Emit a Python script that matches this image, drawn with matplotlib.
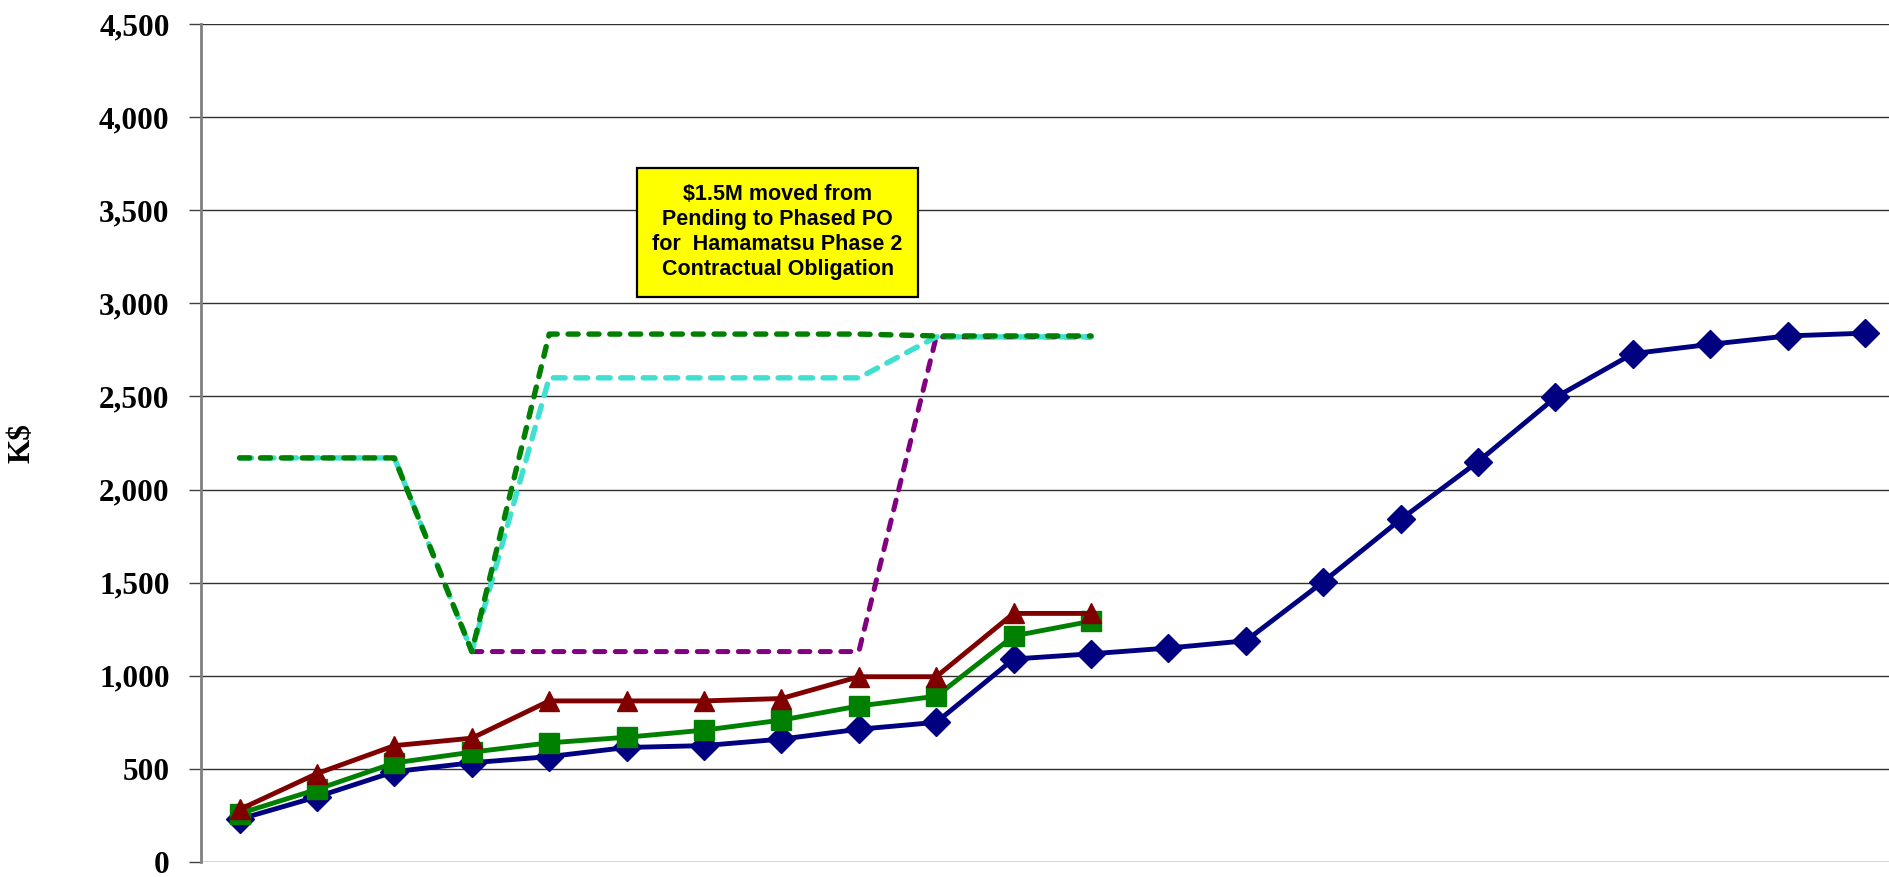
import matplotlib.pyplot as plt
import numpy as np

# Data for the chart (K$), 22 periods, no x tick labels shown
periods = np.arange(22)
actual = [230, 350, 485, 533, 566, 615, 625, 660, 713, 750, 1090, 1118,
          1149, 1188, 1505, 1840, 2150, 2495, 2730, 2780, 2825, 2840]
committed = [260, 390, 532, 590, 640, 670, 708, 762, 838, 890, 1214, 1293]
obligated = [282, 475, 625, 665, 865, 865, 865, 878, 995, 995, 1335, 1335]
plan_green = [2170, 2170, 2170, 1130, 2835, 2835, 2835, 2835, 2835, 2825, 2825, 2825]
plan_cyan = [2170, 2170, 2170, 1130, 2600, 2600, 2600, 2600, 2600, 2820, 2820, 2820]
plan_purple = [np.nan, np.nan, np.nan, 1130, 1130, 1130, 1130, 1130, 1130, 2820, 2820, 2820]

note = "$1.5M moved from\nPending to Phased PO\nfor  Hamamatsu Phase 2\nContractual Obligation"

fig = plt.figure(figsize=(18.9, 8.77), dpi=100)
ax = fig.add_axes([0.1063, 0.0171, 0.901, 0.9555])

# dashed plan lines first, so solid lines sit on top
ax.plot(periods[:12], plan_purple, color='#800080', lw=3.6, dashes=(2.0, 2.1),
        dash_capstyle='round')
ax.plot(periods[:12], plan_cyan, color='#40E0D0', lw=3.9, dashes=(2.2, 1.95),
        dash_capstyle='round')
ax.plot(periods[:12], plan_green, color='#008000', lw=3.9, dashes=(1.85, 2.0),
        dash_capstyle='round')

ax.plot(periods, actual, color='#000080', lw=3.5, marker='D', ms=14,
        solid_joinstyle='round')
ax.plot(periods[:12], committed, color='#008000', lw=3.5, marker='s', ms=14,
        solid_joinstyle='round')
ax.plot(periods[:12], obligated, color='#800000', lw=3.5, marker='^', ms=15,
        solid_joinstyle='round')

# annotation box
ax.add_patch(plt.Rectangle((5.13, 3034), 3.63, 693, facecolor='yellow',
                           edgecolor='black', lw=1.6, zorder=5))
ax.text(6.95, 3385, note, ha='center', va='center', fontsize=15.5,
        fontweight='bold', family='Liberation Sans', linespacing=1.25, zorder=6)

ax.set_xlim(-0.5, 21.5)
ax.set_ylim(0, 4500)
ax.set_yticks(np.arange(0, 4501, 500))
ax.set_yticklabels([f"{v:,}" for v in range(0, 4501, 500)],
                   fontsize=22.5, fontweight='bold', family='Liberation Serif')
ax.set_xticks([])
ax.tick_params(axis='y', length=9, width=1, color='#404040', pad=13.5)
ax.yaxis.grid(True, color='#303030', lw=1)
ax.set_axisbelow(True)

for s in ['top', 'right', 'bottom']:
    ax.spines[s].set_visible(False)
ax.spines['left'].set_color('#808080')
ax.spines['left'].set_linewidth(2)

ax.set_ylabel('K$', fontsize=22.5, fontweight='bold', family='Liberation Serif',
              labelpad=45)

plt.savefig('out.png', dpi=100)
